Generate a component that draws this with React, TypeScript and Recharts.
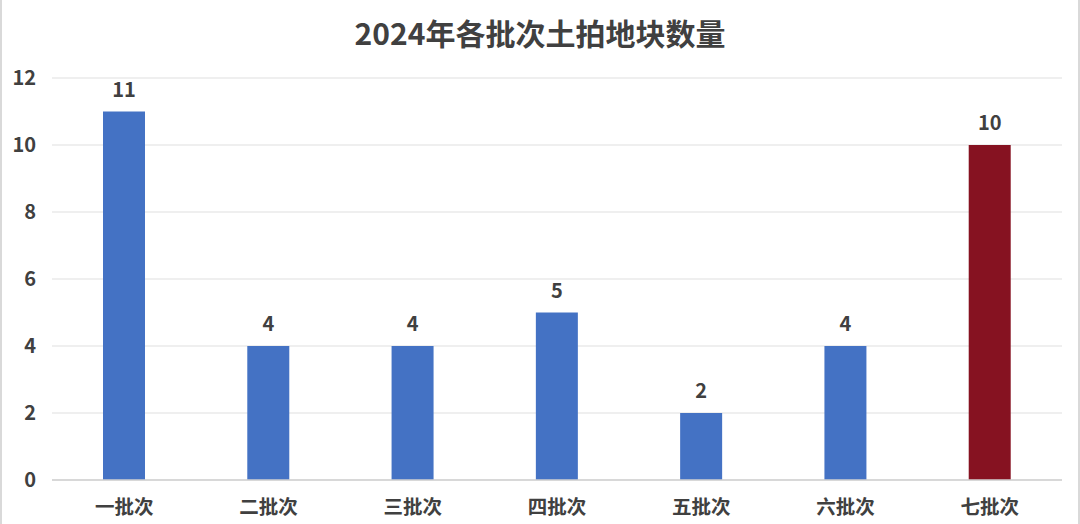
import React from 'react';
import { BarChart, Bar, XAxis, YAxis, CartesianGrid, Cell, LabelList } from 'recharts';

const batches = ['一批次', '二批次', '三批次', '四批次', '五批次', '六批次', '七批次'];
const counts = [11, 4, 4, 5, 2, 4, 10];
const yTicks = [0, 2, 4, 6, 8, 10, 12];

const BLUE = '#4472C4';
const RED = '#861221';
const FONT = '"Noto Sans CJK SC", "Noto Sans", sans-serif';

const data = batches.map((name, i) => ({ name, count: counts[i] }));

const App: React.FC = () => {
  return (
    <div
      style={{
        position: 'absolute',
        top: 0,
        left: 0,
        width: 1080,
        height: 524,
        background: '#fff',
        fontFamily: FONT,
        boxSizing: 'border-box',
        borderLeft: '2px solid #d9d9d9',
        borderRight: '2px solid #d9d9d9',
      }}
    >
      <div
        style={{
          position: 'absolute',
          top: 10,
          left: 0,
          right: 0,
          textAlign: 'center',
          fontSize: 30,
          fontWeight: 'bold',
          color: '#404040',
        }}
      >
        2024年各批次土拍地块数量
      </div>
      <BarChart
        width={1076}
        height={524}
        data={data}
        margin={{ top: 78, right: 16, left: 0, bottom: 14 }}
        style={{ position: 'absolute', top: 0, left: 0 }}
      >
        <CartesianGrid vertical={false} stroke="#e0e0e0" strokeWidth={1.2} />
        <XAxis
          dataKey="name"
          height={30}
          axisLine={{ stroke: '#d0d0d0', strokeWidth: 1.5 }}
          tickLine={false}
          tick={{ fill: '#404040', fontSize: 19.5, fontWeight: 'bold', fontFamily: FONT }}
          tickMargin={14}
        />
        <YAxis
          width={50}
          domain={[0, 12]}
          ticks={yTicks}
          axisLine={false}
          tickLine={false}
          tick={{ fill: '#404040', fontSize: 20, fontWeight: 'bold', fontFamily: FONT }}
          tickMargin={10}
        />
        <Bar dataKey="count" barSize={42} isAnimationActive={false}>
          {data.map((d, i) => (
            <Cell key={d.name} fill={i === data.length - 1 ? RED : BLUE} />
          ))}
          <LabelList
            dataKey="count"
            position="top"
            offset={15}
            style={{ fill: '#404040', fontSize: 20, fontWeight: 'bold', fontFamily: FONT }}
          />
        </Bar>
      </BarChart>
    </div>
  );
};

export default App;
